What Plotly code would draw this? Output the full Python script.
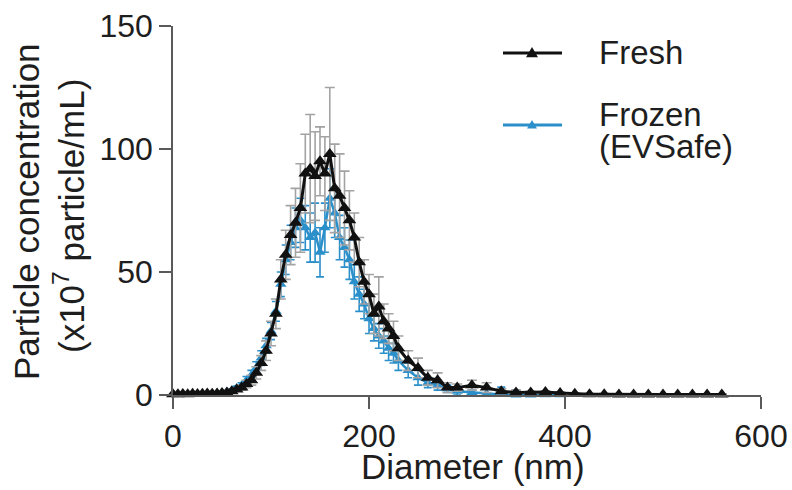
import plotly.graph_objects as go

# Diameter bins (nm)
diameter = [0, 5, 10, 15, 20, 25, 30, 35, 40, 45, 50, 55, 60, 65, 70, 75, 80, 85, 90, 95,
            100, 105, 110, 115, 120, 125, 130, 135, 140, 145, 150, 155, 160, 165, 170, 175,
            180, 185, 190, 195, 200, 205, 210, 215, 220, 225, 230, 240, 250, 260, 270, 280,
            290, 305, 320, 335, 350, 365, 380, 395, 410, 425, 440, 455, 470, 485, 500, 515,
            530, 545, 560]

fresh = [0.3, 0.3, 0.4, 0.3, 0.5, 0.4, 0.5, 0.6, 0.5, 0.6, 0.8, 1.0, 1.5, 2.2, 3.0, 4.5, 6, 9, 13, 18,
         25, 33, 47, 57, 65, 70, 76, 90, 92, 89, 95, 90, 98, 84, 81, 76,
         71, 64, 54, 46, 41, 33, 36, 30, 27, 24, 19, 14, 11, 7, 6, 3,
         3, 4, 3, 1.5, 1, 1, 1.2, 0.8, 0.5, 0.3, 0.3, 0.2, 0.2, 0.2, 0.2, 0.2,
         0.2, 0.2, 0.2]
fresh_err = [0.3, 0.3, 0.3, 0.3, 0.3, 0.3, 0.3, 0.3, 0.3, 0.3, 0.4, 0.4, 0.5, 0.7, 1, 1.5, 2, 2.5, 3, 4,
             5, 6, 8, 10, 12, 14, 18, 16, 22, 18, 14, 15, 27, 18, 17, 15,
             12, 10, 10, 9, 8, 8, 12, 7, 6, 6, 5, 4, 4, 3, 3, 2,
             1.5, 2, 2, 1, 1, 0.5, 0.5, 0.5, 0.3, 0.3, 0.3, 0.3, 0.3, 0.3, 0.3, 0.3,
             0.3, 0.3, 0.3]

frozen_x = [0, 5, 10, 15, 20, 25, 30, 35, 40, 45, 50, 55, 60, 65, 70, 75, 80, 85, 90, 95,
            100, 105, 110, 115, 120, 125, 130, 135, 140, 145, 150, 155, 160, 165, 170, 175,
            180, 185, 190, 195, 200, 205, 210, 215, 220, 225, 230, 240, 250, 260, 270, 280,
            290, 305, 320, 335, 350, 365, 380, 395]
frozen = [0.3, 0.3, 0.4, 0.3, 0.4, 0.4, 0.5, 0.5, 0.6, 0.7, 0.9, 1.2, 1.8, 2.8, 4, 6, 8, 11, 15, 20,
          26, 34, 45, 55, 62, 68, 71, 68, 64, 66, 58, 68, 80, 74, 64, 60,
          55, 46, 41, 37, 31, 27, 24, 22, 19, 17, 14, 10, 7, 5, 4, 2.5,
          1.5, 1, 0.5, 0.2, 0, 0, 0.1, 0.1]
frozen_err = [0.2, 0.2, 0.2, 0.2, 0.2, 0.2, 0.3, 0.3, 0.3, 0.3, 0.4, 0.5, 0.6, 0.8, 1, 1.5, 2, 2.5, 3, 3,
              3.5, 4, 5, 6, 7, 8, 9, 9, 10, 12, 10, 10, 12, 10, 9, 8,
              8, 7, 7, 6, 6, 5, 5, 5, 5, 4, 4, 3, 3, 2, 2, 1.5,
              1.5, 1, 2, 3, 2, 1, 0.5, 0.5]

x_ticks = [0, 200, 400, 600]
y_ticks = [0, 50, 100, 150]
legend_names = ["Fresh", "Frozen", "(EVSafe)"]

FONT = "Liberation Sans, Arial, sans-serif"
TXT = "#1e1e1e"
AX = "#5a5a5a"
BLUE = "#2b8fca"
BLACK = "#111111"

fig = go.Figure()

fig.add_trace(go.Scatter(
    x=frozen_x, y=frozen, name="Frozen (EVSafe)", mode="lines+markers",
    line=dict(color=BLUE, width=2.5),
    marker=dict(symbol="triangle-up", size=10, color=BLUE),
    error_y=dict(type="data", array=frozen_err, visible=True, color=BLUE, thickness=1.6, width=4),
    cliponaxis=False, showlegend=False,
))
fig.add_trace(go.Scatter(
    x=diameter, y=fresh, name="Fresh", mode="lines+markers",
    line=dict(color=BLACK, width=3),
    marker=dict(symbol="triangle-up", size=12, color=BLACK),
    error_y=dict(type="data", array=fresh_err, visible=True, color="#a3a3a3", thickness=1.6, width=5),
    cliponaxis=False, showlegend=False,
))

# plot area in pixels: x 173..761, y 26..395
def px(xp):
    return (xp - 173) / 588.0

def py(yp):
    return (395 - yp) / 369.0

shapes = []
annotations = []
# custom legend
for name_lines, col, line_y, text_ys, msize in [
    ([legend_names[0]], BLACK, 53, [53], 6),
    ([legend_names[1], legend_names[2]], BLUE, 125, [115, 146], 5),
]:
    shapes.append(dict(type="line", xref="paper", yref="paper", x0=px(503), x1=px(562),
                       y0=py(line_y), y1=py(line_y), line=dict(color=col, width=3)))
    shapes.append(dict(type="path", xref="paper", yref="paper", xsizemode="pixel", ysizemode="pixel",
                       xanchor=px(532), yanchor=py(line_y),
                       path=f"M{-msize},{-msize*0.7} L{msize},{-msize*0.7} L0,{msize} Z",
                       fillcolor=col, line=dict(color=col, width=0)))
    for t, ty in zip(name_lines, text_ys):
        annotations.append(dict(text=t, xref="paper", yref="paper", x=px(597), y=py(ty),
                                xanchor="left", yanchor="middle", showarrow=False,
                                font=dict(size=33, color=TXT)))

annotations += [
    dict(text="Diameter (nm)", xref="paper", yref="paper", x=px(473), y=py(466),
         xanchor="center", yanchor="middle", showarrow=False, font=dict(size=35, color=TXT)),
    dict(text="Particle concentration", xref="paper", yref="paper", x=px(26), y=py(212),
         xanchor="center", yanchor="middle", textangle=-90, showarrow=False,
         font=dict(size=35, color=TXT)),
    dict(text="(x10<sup>7</sup> particle/mL)", xref="paper", yref="paper", x=px(69), y=py(216),
         xanchor="center", yanchor="middle", textangle=-90, showarrow=False,
         font=dict(size=35, color=TXT)),
]

fig.update_layout(
    width=792, height=490,
    margin=dict(l=173, r=31, t=26, b=95),
    paper_bgcolor="white", plot_bgcolor="white",
    font=dict(family=FONT, size=32, color=TXT),
    showlegend=False,
    xaxis=dict(range=[0, 600], tickvals=x_ticks, ticks="outside", ticklen=12, automargin=False,
               tickwidth=1.6, tickcolor=AX, showline=True, linecolor=AX, linewidth=1.6,
               showgrid=False, zeroline=False, tickfont=dict(size=32, color=TXT)),
    yaxis=dict(range=[0, 150], tickvals=y_ticks, ticks="outside", ticklen=12, automargin=False,
               tickwidth=1.6, tickcolor=AX, showline=True, linecolor=AX, linewidth=1.6,
               showgrid=False, zeroline=False, tickfont=dict(size=32, color=TXT)),
    shapes=shapes,
    annotations=annotations,
)

fig.write_html("out.html")
